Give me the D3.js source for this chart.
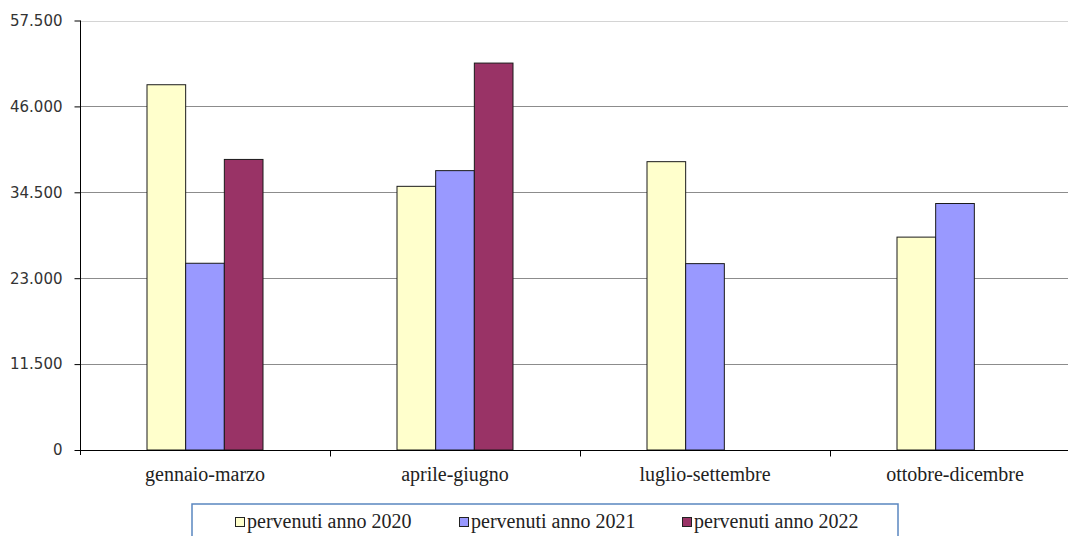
<!DOCTYPE html>
<html>
<head>
<meta charset="utf-8">
<script src="https://cdn.jsdelivr.net/npm/d3@7"></script>
<style>
  html, body { margin: 0; padding: 0; background: #fff; }
  svg { display: block; }
  .serif { font-family: "Liberation Serif", "DejaVu Serif", "Times New Roman", serif; }
</style>
</head>
<body>
<svg id="chart" width="1068" height="536"></svg>
<script>
const categories = ["gennaio-marzo", "aprile-giugno", "luglio-settembre", "ottobre-dicembre"];
const seriesNames = ["pervenuti anno 2020", "pervenuti anno 2021", "pervenuti anno 2022"];
const values2020 = [48900, 35300, 38600, 28500];
const values2021 = [25000, 37400, 24950, 33000];
const values2022 = [38900, 51800, null, null];
const yTicks = [0, 11500, 23000, 34500, 46000, 57500];
const colors = ["#FFFFCC", "#9999FF", "#993366"];

(function () {
const seriesValues = [values2020, values2021, values2022];
const svg = d3.select("#chart");

const mLeft = 80, mRight = 1080, mTop = 20.5, mBottom = 450;

const x0 = d3.scaleBand().domain(categories).range([mLeft, mRight])
  .paddingInner(0.536).paddingOuter(0.268);
const x1 = d3.scaleBand().domain(seriesNames).range([0, x0.bandwidth()]);
const y = d3.scaleLinear().domain([0, 57500]).range([mBottom, mTop]);

const fmt = v => d3.format(",")(v).replace(/,/g, ".");

// gridlines
svg.append("g").selectAll("line").data(yTicks.filter(t => t > 0)).join("line")
  .attr("x1", mLeft).attr("x2", 1068)
  .attr("y1", d => Math.round(y(d)) + 0.5).attr("y2", d => Math.round(y(d)) + 0.5)
  .attr("stroke", d => d === 57500 ? "#d4d4d4" : "#8c8c8c").attr("stroke-width", 1);

// bars
const groups = svg.append("g").selectAll("g").data(categories).join("g")
  .attr("transform", c => `translate(${x0(c)},0)`);
groups.selectAll("rect")
  .data((c, i) => seriesNames.map((s, j) => ({ s, j, v: seriesValues[j][i] })).filter(d => d.v != null))
  .join("rect")
  .attr("x", d => x1(d.s))
  .attr("y", d => y(d.v))
  .attr("width", x1.bandwidth())
  .attr("height", d => y(0) - y(d.v))
  .attr("fill", d => colors[d.j])
  .attr("stroke", "#1a1a1a").attr("stroke-width", 1);

// y axis
const yAxis = d3.axisLeft(y).tickValues(yTicks).tickSize(6).tickPadding(12).tickFormat(fmt);
const gy = svg.append("g").attr("transform", `translate(${mLeft + 0.5},0)`).call(yAxis);
gy.select(".domain").attr("stroke", "#000").attr("d", `M0,${mTop}V${mBottom + 5}`);
gy.selectAll(".tick line").attr("stroke", "#000");
gy.selectAll(".tick text").attr("font-family", "DejaVu Sans, sans-serif")
  .attr("font-size", 15).attr("fill", "#333");

// x axis
const xAxis = d3.axisBottom(x0).tickSize(0).tickPadding(16);
const gx = svg.append("g").attr("transform", `translate(0,${mBottom + 0.5})`).call(xAxis);
gx.attr("font-family", null);
gx.select(".domain").attr("d", `M${mLeft},0H1068`).attr("stroke", "#000");
gx.selectAll(".tick text").attr("class", "serif")
  .attr("font-size", 20).attr("fill", "#222");
const bounds = categories.slice(1).map(c => x0(c) - x0.step() * x0.paddingInner() / 2);
gx.append("g").selectAll("line").data(bounds).join("line")
  .attr("x1", d => Math.round(d) + 0.5).attr("x2", d => Math.round(d) + 0.5)
  .attr("y1", 0).attr("y2", 6).attr("stroke", "#000");

// legend
const lg = svg.append("g");
lg.append("rect").attr("x", 192).attr("y", 504).attr("width", 706).attr("height", 60)
  .attr("fill", "#fff").attr("stroke", "#5a86c0").attr("stroke-width", 1.5);
const legendX = [235, 459, 682];
const items = lg.selectAll("g.item").data(seriesNames).join("g").attr("class", "item")
  .attr("transform", (d, i) => `translate(${legendX[i]},0)`);
items.append("rect").attr("x", 0.5).attr("y", 517.5).attr("width", 9).attr("height", 9)
  .attr("fill", (d, i) => colors[i]).attr("stroke", "#222");
items.append("text").attr("class", "serif").attr("x", 12).attr("y", 528)
  .attr("font-size", 20).attr("fill", "#222")
  .text(d => d);
})();
</script>
</body>
</html>
